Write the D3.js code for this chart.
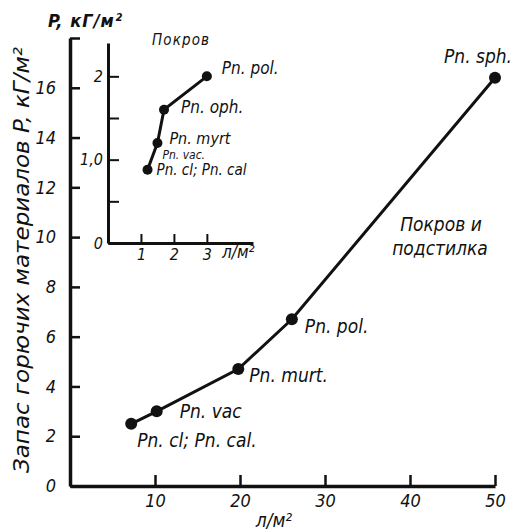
<!DOCTYPE html>
<head>
  <meta charset="utf-8">
  <script src="https://d3js.org/d3.v7.min.js"></script>
  <style>
    body { margin:0; background:#fff; }
    text { font-family: "DejaVu Sans Condensed", "DejaVu Sans", sans-serif; font-style: italic; fill:#111; }
  </style>
</head>

<body>
  <script>

  // main chart: covering + litter
  var mainX = [7.2, 10.2, 19.8, 26.1, 50];
  var mainY = [2.5, 3.0, 4.7, 6.7, 16.4];
  var mainNames = ["Pn. cl; Pn. cal.", "Pn. vac", "Pn. murt.", "Pn. pol.", "Pn. sph."];
  var mainXTicks = [10, 20, 30, 40, 50];
  var mainYTicks = [0, 2, 4, 6, 8, 10, 12, 14, 16, 18];
  var mainYLabels = ["0", "2", "4", "6", "8", "10", "12", "14", "16", ""];

  // inset: covering only
  var insetX = [1.2, 1.5, 1.7, 3.0];
  var insetY = [0.88, 1.2, 1.6, 2.0];
  var insetNames = ["Pn. cl; Pn. cal", "Pn. vac.", "Pn. oph.", "Pn. pol."];
  var insetXTicks = [1, 2, 3];
  var insetYTicks = [0, 0.5, 1, 1.5, 2];
  var insetYLabels = ["0", "", "1,0", "", "2"];

  var width = 515, height = 531;

  var svg = d3.select("body").append("svg")
    .attr("width", width)
    .attr("height", height);

  // ---------- main chart ----------
  var x = d3.scaleLinear().domain([0, 50]).range([70, 495]);
  var y = d3.scaleLinear().domain([0, 18]).range([486, 38]);

  var yAxis = d3.axisLeft(y)
    .tickValues(mainYTicks)
    .tickFormat(function(d, i) { return mainYLabels[i]; })
    .tickSizeInner(-10)
    .tickSizeOuter(0)
    .tickPadding(14);

  var xAxis = d3.axisBottom(x)
    .tickValues(mainXTicks)
    .tickFormat(d3.format("d"))
    .tickSizeInner(-11)
    .tickSizeOuter(0)
    .tickPadding(8);

  var gy = svg.append("g").attr("transform", "translate(70,0)").call(yAxis);
  var gx = svg.append("g").attr("transform", "translate(0,486)").call(xAxis);

  [gx, gy].forEach(function(g) {
    g.select(".domain").attr("stroke", "#111").attr("stroke-width", 3.5);
    g.selectAll(".tick line").attr("stroke", "#111").attr("stroke-width", 2.5);
    g.selectAll(".tick text").style("font-size", "18px").attr("fill", "#111");
  });

  var line = d3.line()
    .x(function(d) { return x(d[0]); })
    .y(function(d) { return y(d[1]); });

  var mainPts = mainX.map(function(v, i) { return [v, mainY[i]]; });

  svg.append("path")
    .datum(mainPts)
    .attr("d", line)
    .attr("fill", "none")
    .attr("stroke", "#111")
    .attr("stroke-width", 3);

  svg.selectAll(".mdot")
    .data(mainPts)
    .enter()
    .append("circle")
    .attr("cx", function(d) { return x(d[0]); })
    .attr("cy", function(d) { return y(d[1]); })
    .attr("r", 6)
    .attr("fill", "#111");

  // label offsets from each point
  var mainOff = [[6, 23], [23, 7], [11, 13], [13, 14], [-51, -15]];
  svg.selectAll(".mlab")
    .data(mainPts)
    .enter()
    .append("text")
    .attr("x", function(d, i) { return x(d[0]) + mainOff[i][0]; })
    .attr("y", function(d, i) { return y(d[1]) + mainOff[i][1]; })
    .style("font-size", "19px")
    .text(function(d, i) { return mainNames[i]; });

  svg.append("text")
    .attr("x", 441).attr("y", 231)
    .attr("text-anchor", "middle")
    .style("font-size", "19px")
    .text("Покров и");
  svg.append("text")
    .attr("x", 440).attr("y", 255)
    .attr("text-anchor", "middle")
    .style("font-size", "19px")
    .text("подстилка");

  svg.append("text")
    .attr("x", 274).attr("y", 527)
    .attr("text-anchor", "middle")
    .style("font-size", "19px")
    .text("л/м²");

  svg.append("text")
    .attr("transform", "translate(29,260) rotate(-90)")
    .attr("text-anchor", "middle")
    .attr("textLength", 426)
    .attr("lengthAdjust", "spacingAndGlyphs")
    .style("font-size", "22px")
    .text("Запас горючих материалов  P, кГ/м²");

  svg.append("text")
    .attr("x", 48).attr("y", 27)
    .attr("textLength", 74)
    .style("font-size", "18px")
    .style("font-weight", "bold")
    .text("P, кГ/м²");

  // ---------- inset ----------
  var ix = d3.scaleLinear().domain([0, 4.4]).range([108, 253]);
  var iy = d3.scaleLinear().domain([0, 2.4]).range([243, 43]);

  var iyAxis = d3.axisLeft(iy)
    .tickValues(insetYTicks)
    .tickFormat(function(d, i) { return insetYLabels[i]; })
    .tickSizeInner(-11)
    .tickSizeOuter(0)
    .tickPadding(5);

  var ixAxis = d3.axisBottom(ix)
    .tickValues(insetXTicks)
    .tickFormat(d3.format("d"))
    .tickSizeInner(-9)
    .tickSizeOuter(0)
    .tickPadding(6);

  var igy = svg.append("g").attr("transform", "translate(108,0)").call(iyAxis);
  var igx = svg.append("g").attr("transform", "translate(0,243)").call(ixAxis);

  [igx, igy].forEach(function(g) {
    g.select(".domain").attr("stroke", "#111").attr("stroke-width", 3);
    g.selectAll(".tick line").attr("stroke", "#111").attr("stroke-width", 2);
    g.selectAll(".tick text").style("font-size", "16px").attr("fill", "#111");
  });

  var iline = d3.line()
    .x(function(d) { return ix(d[0]); })
    .y(function(d) { return iy(d[1]); });

  var insetPts = insetX.map(function(v, i) { return [v, insetY[i]]; });

  svg.append("path")
    .datum(insetPts)
    .attr("d", iline)
    .attr("fill", "none")
    .attr("stroke", "#111")
    .attr("stroke-width", 3);

  svg.selectAll(".idot")
    .data(insetPts)
    .enter()
    .append("circle")
    .attr("cx", function(d) { return ix(d[0]); })
    .attr("cy", function(d) { return iy(d[1]); })
    .attr("r", 5)
    .attr("fill", "#111");

  var insetOff = [[9, 5], [5, 16], [17, 3], [15, -2]];
  var insetSize = ["15px", "12px", "17px", "17px"];
  svg.selectAll(".ilab")
    .data(insetPts)
    .enter()
    .append("text")
    .attr("x", function(d, i) { return ix(d[0]) + insetOff[i][0]; })
    .attr("y", function(d, i) { return iy(d[1]) + insetOff[i][1]; })
    .style("font-size", function(d, i) { return insetSize[i]; })
    .text(function(d, i) { return insetNames[i]; });

  // second name at the shared vac/myrt point
  svg.append("text")
    .attr("x", ix(insetX[1]) + 12)
    .attr("y", iy(insetY[1]) + 1)
    .style("font-size", "16px")
    .text("Pn. myrt");

  svg.append("text")
    .attr("x", 152).attr("y", 45)
    .attr("textLength", 57)
    .style("font-size", "15px")
    .text("Покров");

  svg.append("text")
    .attr("x", 222).attr("y", 258)
    .style("font-size", "17px")
    .text("л/м²");

  </script>
</body>
